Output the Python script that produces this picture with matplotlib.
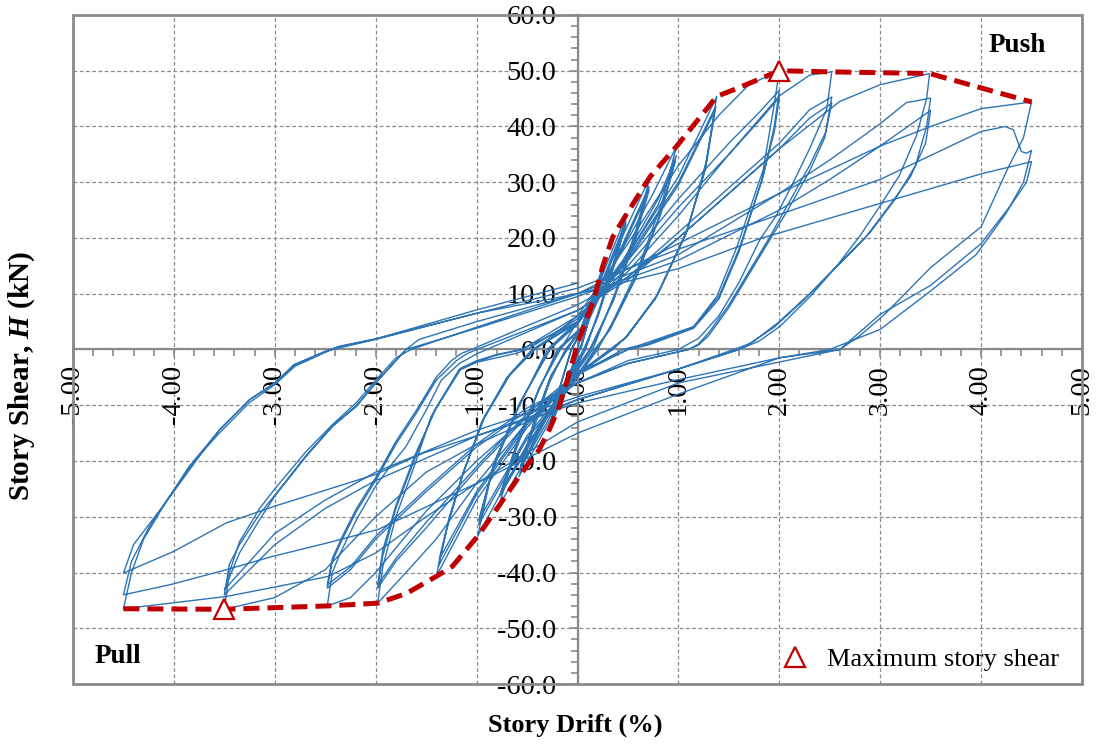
import numpy as np
import matplotlib
matplotlib.use("Agg")
import matplotlib.pyplot as plt
from matplotlib.patches import Rectangle
from matplotlib.ticker import MultipleLocator, FormatStrFormatter

# hysteresis record, one pair of lists per drift amplitude (3 cycles each)
drift_l1 = [0.00, 0.08, 0.25, 0.15, 0.05, 0.00, -0.10, -0.28, -0.18, -0.07,
            0.00, 0.09, 0.24, 0.14, 0.04, -0.02, -0.11, -0.27, -0.17, -0.06,
            0.00, 0.09, 0.24, 0.13, 0.04, -0.02, -0.11, -0.26, -0.16, -0.06]
shear_l1 = [0.0, 5.5, 14.9, 8.0, 1.5, -1.0, -6.5, -14.4, -7.0, -0.5,
            2.0, 6.5, 13.8, 7.0, 0.8, -1.5, -6.0, -13.5, -6.5, 0.0,
            2.2, 6.5, 13.4, 6.5, 0.5, -1.5, -5.8, -13.0, -6.0, 0.2]

drift_l2 = [0.05, 0.25, 0.49, 0.38, 0.22, 0.08, -0.05, -0.25, -0.58, -0.45, -0.28, -0.12,
            0.05, 0.25, 0.48, 0.37, 0.20, 0.07, -0.07, -0.28, -0.57, -0.44, -0.27, -0.11,
            0.05, 0.25, 0.48, 0.36, 0.20, 0.06, -0.07, -0.28, -0.56, -0.43, -0.26, -0.10]
shear_l2 = [3.5, 13.5, 24.4, 17.0, 7.5, 0.0, -4.5, -12.0, -22.8, -15.0, -6.0, 0.0,
            4.0, 12.5, 23.0, 15.5, 6.0, 0.0, -4.5, -11.5, -21.3, -13.5, -5.0, 0.0,
            3.8, 12.0, 22.5, 15.0, 5.8, 0.0, -4.3, -11.0, -20.8, -13.0, -4.6, 0.0]

drift_l3 = [0.10, 0.40, 0.72, 0.58, 0.38, 0.15, -0.05, -0.38, -0.78, -0.62, -0.40, -0.20,
            0.10, 0.40, 0.71, 0.56, 0.36, 0.13, -0.06, -0.40, -0.77, -0.60, -0.38, -0.18,
            0.10, 0.40, 0.71, 0.56, 0.35, 0.12, -0.06, -0.40, -0.76, -0.59, -0.37, -0.17]
shear_l3 = [5.5, 18.5, 31.0, 21.5, 10.5, 0.0, -5.0, -15.5, -28.1, -18.5, -8.0, 0.0,
            5.0, 17.0, 29.2, 19.5, 9.0, 0.0, -5.0, -14.8, -26.3, -16.8, -7.0, 0.0,
            4.8, 16.5, 28.6, 19.0, 8.6, 0.0, -4.6, -14.3, -25.6, -16.2, -6.5, 0.0]

drift_l4 = [0.00, 0.40, 0.75, 0.98, 0.84, 0.60, 0.35, 0.20, 0.00, -0.50, -0.99, -0.85, -0.60, -0.30,
            0.00, 0.45, 0.80, 0.98, 0.83, 0.58, 0.33, 0.18, 0.00, -0.50, -0.98, -0.83, -0.58, -0.28,
            0.00, 0.45, 0.80, 0.97, 0.82, 0.57, 0.32, 0.17, 0.00, -0.50, -0.98, -0.82, -0.57, -0.27]
shear_l4 = [5.0, 16.5, 28.0, 36.4, 26.5, 14.5, 5.0, 0.0, -5.0, -17.0, -33.5, -22.0, -11.0, 0.0,
            5.0, 16.0, 27.0, 34.8, 24.8, 13.0, 4.0, 0.0, -5.0, -16.0, -31.4, -20.5, -10.0, 0.0,
            4.5, 15.5, 26.0, 33.8, 24.0, 12.5, 3.5, 0.0, -4.5, -15.5, -30.6, -20.0, -9.5, 0.0]

drift_l5 = [0.00, 0.50, 1.00, 1.38, 1.28, 1.10, 0.80, 0.50, 0.35, 0.00, -0.50, -1.00, -1.40, -1.30, -1.15, -0.95, -0.70, -0.45,
            0.00, 0.50, 1.00, 1.37, 1.27, 1.08, 0.78, 0.48, 0.33, 0.00, -0.50, -1.00, -1.38, -1.28, -1.13, -0.93, -0.68, -0.43,
            0.00, 0.50, 1.00, 1.36, 1.26, 1.07, 0.77, 0.47, 0.32, 0.00, -0.50, -1.00, -1.37, -1.27, -1.12, -0.92, -0.67, -0.42]
shear_l5 = [5.0, 17.0, 31.0, 45.4, 34.0, 22.0, 10.0, 2.5, 0.0, -4.5, -14.0, -27.0, -40.7, -32.5, -23.0, -13.0, -5.0, 0.0,
            5.0, 16.5, 30.0, 43.6, 32.5, 21.0, 9.5, 2.2, 0.0, -4.5, -13.5, -26.0, -38.9, -31.0, -22.0, -12.5, -4.8, 0.0,
            4.8, 16.0, 29.5, 42.8, 32.0, 20.5, 9.0, 2.0, 0.0, -4.3, -13.0, -25.5, -37.6, -30.0, -21.5, -12.0, -4.5, 0.0]

drift_l6 = [0.00, 0.50, 1.00, 1.40, 1.70, 2.00, 1.95, 1.84, 1.58, 1.38, 1.15, 0.62, 0.45,
            0.00, -0.50, -1.00, -1.40, -1.70, -1.98, -1.93, -1.80, -1.60, -1.45, -1.17, -1.00, -0.61, -0.50,
            0.00, 0.50, 1.00, 1.50, 1.80, 2.00, 1.95, 1.84, 1.60, 1.40, 1.15, 0.70, 0.50,
            0.00, -0.50, -1.00, -1.50, -1.80, -1.98, -1.93, -1.80, -1.60, -1.42, -1.17, -1.00, -0.80, -0.55,
            0.00, 0.50, 1.00, 1.50, 1.80, 2.00, 1.95, 1.82, 1.60, 1.40, 1.15, 0.70, 0.50,
            0.00, -0.50, -1.00, -1.50, -1.80, -1.98, -1.93, -1.80, -1.60, -1.40, -1.15, -1.00, -0.80, -0.55]
shear_l6 = [6.0, 19.0, 33.0, 42.0, 47.5, 50.0, 44.0, 32.2, 18.4, 9.5, 4.1, 0.8, 0.0,
            -4.5, -13.0, -24.0, -34.0, -40.0, -45.5, -39.0, -30.0, -20.0, -12.0, -3.7, -2.3, -0.7, 0.0,
            5.5, 16.0, 27.0, 37.0, 42.5, 46.5, 40.0, 31.0, 18.0, 9.5, 4.0, 1.0, 0.0,
            -4.5, -12.0, -21.5, -32.0, -38.0, -42.8, -37.0, -28.5, -19.0, -11.0, -3.5, -2.2, -1.0, 0.0,
            5.0, 15.0, 25.5, 35.0, 41.0, 45.2, 39.0, 30.0, 17.5, 9.0, 3.8, 0.8, 0.0,
            -4.2, -11.5, -21.0, -31.0, -37.5, -42.2, -36.0, -28.0, -18.5, -10.5, -3.3, -2.0, -0.9, 0.0]

drift_l7 = [0.00, 0.50, 1.00, 1.50, 2.00, 2.30, 2.52, 2.47, 2.30, 2.14, 1.97, 1.81, 1.60, 1.40, 1.20, 1.00,
            0.50, 0.00, -0.50, -1.00, -1.50, -2.00, -2.25, -2.48,
            -2.43, -2.35, -2.19, -2.00, -1.86, -1.70, -1.50, -1.35, -1.17, -1.00, -0.90,
            0.00, 0.50, 1.00, 1.50, 2.00, 2.30, 2.52, 2.46, 2.30, 2.10, 1.90, 1.70, 1.50, 1.30, 1.20, 1.10,
            0.50, 0.00, -0.50, -1.00, -1.50, -2.00, -2.25, -2.48,
            -2.43, -2.33, -2.19, -2.00, -1.80, -1.60, -1.40, -1.20, -1.10, -1.00,
            0.00, 0.50, 1.00, 1.50, 2.00, 2.30, 2.52, 2.45, 2.30, 2.10, 1.90, 1.70, 1.50, 1.30, 1.20, 1.10,
            0.50, 0.00, -0.50, -1.00, -1.50, -2.00, -2.25, -2.48,
            -2.43, -2.33, -2.19, -2.00, -1.80, -1.60, -1.40, -1.25, -1.15, -1.05]
shear_l7 = [6.0, 14.0, 24.0, 35.0, 45.5, 49.2, 49.8, 43.1, 36.0, 30.0, 24.0, 19.8, 12.0, 6.0, 2.0, 0.0,
            -2.0, -6.0, -12.0, -20.0, -29.0, -40.0, -44.5, -46.0,
            -40.0, -36.5, -30.5, -24.5, -21.0, -17.4, -10.9, -5.5, -2.5, -0.8, 0.0,
            7.0, 13.0, 21.0, 29.0, 37.0, 43.0, 45.3, 39.0, 33.0, 26.5, 20.0, 14.0, 8.0, 3.0, 1.0, 0.0,
            -2.5, -6.0, -11.0, -17.5, -25.5, -34.0, -39.5, -42.8,
            -38.0, -34.0, -29.0, -23.5, -17.0, -11.5, -5.5, -2.0, -0.8, 0.0,
            7.0, 12.5, 20.0, 28.0, 36.0, 41.5, 44.2, 38.0, 32.0, 25.5, 19.5, 13.5, 7.5, 2.5, 0.8, 0.0,
            -2.5, -6.0, -10.5, -17.0, -25.0, -33.5, -39.0, -42.2,
            -37.5, -33.5, -28.5, -23.0, -16.5, -11.0, -5.0, -2.0, -0.7, 0.0]

drift_l8 = [-0.60, 0.00, 0.50, 1.00, 1.50, 2.00, 2.60, 3.00, 3.49,
            3.46, 3.36, 3.19, 3.00, 2.80, 2.57, 2.31, 2.01, 1.80, 1.60,
            1.00, 0.00, -1.00, -1.50, -2.00, -2.50, -3.00, -3.50,
            -3.45, -3.35, -3.15, -3.00, -2.70, -2.43, -2.19, -2.00, -1.80, -1.65,
            -1.00, 0.00, 1.00, 2.00, 2.50, 3.00, 3.26, 3.36, 3.50,
            3.46, 3.35, 3.15, 2.90, 2.60, 2.30, 2.00, 1.75, 1.60,
            1.00, 0.00, -1.00, -2.00, -2.50, -3.00, -3.50,
            -3.45, -3.35, -3.15, -2.95, -2.69, -2.43, -2.19, -2.00, -1.80, -1.70,
            -1.00, 0.00, 1.00, 2.00, 2.50, 3.00, 3.50,
            3.45, 3.30, 3.10, 2.85, 2.55, 2.25, 1.95, 1.70, 1.55,
            1.00, 0.00, -1.00, -2.00, -2.50, -3.00, -3.50,
            -3.35, -3.15, -3.00, -2.69, -2.43, -2.19, -2.00, -1.70, -1.57]
shear_l8 = [3.5, 8.0, 13.0, 20.0, 28.0, 36.0, 44.5, 47.5, 49.5,
            45.0, 38.4, 31.2, 25.8, 20.4, 15.0, 9.6, 4.2, 1.5, 0.0,
            -3.5, -9.0, -17.0, -22.0, -30.0, -39.5, -44.5, -46.6,
            -40.0, -34.5, -28.5, -25.0, -18.5, -13.5, -9.5, -5.5, -1.5, 0.0,
            4.0, 10.0, 17.0, 28.0, 34.0, 40.5, 44.3, 44.6, 45.1,
            40.0, 33.0, 27.0, 21.0, 15.5, 10.0, 5.0, 1.5, 0.0,
            -3.5, -9.0, -15.5, -23.5, -28.5, -35.0, -44.0,
            -38.5, -35.0, -29.5, -25.0, -19.0, -13.8, -10.0, -6.0, -2.0, 0.0,
            3.8, 9.5, 16.0, 25.0, 30.5, 36.5, 42.9,
            37.0, 31.0, 26.0, 20.0, 14.5, 9.0, 4.0, 1.0, 0.0,
            -3.5, -8.5, -14.5, -22.0, -27.0, -33.0, -43.1,
            -36.5, -30.5, -26.3, -19.2, -13.8, -10.2, -6.0, 0.0, 1.8]

drift_l9 = [-1.00, 0.00, 1.00, 2.00, 3.00, 3.50, 4.00, 4.50,
            4.42, 4.27, 4.00, 3.50, 3.05, 2.80, 2.60,
            1.00, 0.00, -1.00, -1.50, -2.00, -2.47, -2.97, -3.48, -3.90, -4.50,
            -4.42, -4.30, -4.10, -3.85, -3.55, -3.25, -3.00, -2.80, -2.50,
            -2.00, -1.00, 0.00, 1.00, 1.81, 3.00, 4.00, 4.24, 4.32, 4.40, 4.45, 4.50,
            4.42, 4.25, 3.95, 3.50, 3.00, 2.50,
            2.00, 1.00, 0.00, -1.00, -1.98, -2.48, -3.02, -3.48, -4.04, -4.50,
            -4.42, -4.25, -4.05, -3.80, -3.55, -3.25, -3.00, -2.80, -2.40,
            -2.00, -1.00, 0.00, 1.00, 1.81, 3.00, 4.00, 4.50,
            4.45, 4.30, 4.00, 3.50, 3.00, 2.60,
            2.00, 1.00, 0.00, -1.53, -2.00, -3.00, -3.48, -4.00, -4.50,
            -4.40, -4.21, -4.01, -3.75, -3.55, -3.25, -3.00, -2.81, -2.36, -2.00, -1.00, 0.00]
shear_l9 = [5.0, 10.0, 19.0, 28.0, 36.5, 40.0, 43.2, 44.4,
            38.0, 32.7, 22.0, 14.7, 6.4, 2.5, 0.0,
            -6.0, -13.0, -24.0, -30.0, -36.5, -40.7, -42.5, -44.3, -45.2, -46.5,
            -40.0, -34.0, -28.0, -21.0, -14.5, -9.0, -6.0, -2.7, -0.3,
            1.8, 6.5, 11.0, 18.0, 23.0, 30.5, 39.1, 40.0, 39.4, 35.5, 35.2, 35.7,
            30.0, 24.5, 17.0, 10.5, 3.6, 0.0,
            -1.5, -8.0, -15.0, -24.0, -32.3, -34.7, -37.1, -39.5, -42.2, -44.0,
            -38.0, -32.0, -26.5, -20.0, -15.0, -9.5, -6.3, -3.0, 0.3,
            1.9, 6.5, 10.0, 14.5, 19.9, 26.2, 31.5, 33.7,
            30.0, 26.0, 19.0, 11.5, 6.3, 0.0,
            -1.5, -5.4, -9.6, -18.6, -22.4, -28.1, -31.1, -36.2, -40.1,
            -35.0, -30.5, -25.7, -19.2, -14.4, -9.0, -6.0, -2.7, 0.6, 1.9, 7.1, 11.9]

# backbone (envelope) curve
env_drift = [-4.50, -3.50, -2.48, -1.98, -1.70, -1.40, -1.24, -0.99, -0.78, -0.58, -0.38, -0.28,
             -0.18, -0.08, 0.00, 0.16, 0.25, 0.35, 0.49, 0.72, 0.98, 1.22, 1.38, 1.55, 1.75,
             2.00, 2.52, 3.49, 4.50]
env_shear = [-46.5, -46.6, -46.0, -45.5, -43.8, -40.7, -38.9, -33.5, -28.1, -22.8, -18.0, -14.4,
             -10.2, -4.2, 1.0, 8.9, 14.9, 20.2, 24.4, 31.0, 36.4, 41.8, 45.4, 46.6, 48.1,
             50.0, 49.8, 49.5, 44.4]

# maximum story shear in each direction
peak_drift = [2.00, -3.50]
peak_shear = [50.0, -46.6]

drift = np.concatenate([drift_l1, drift_l2, drift_l3, drift_l4, drift_l5,
                        drift_l6, drift_l7, drift_l8, drift_l9])
shear = np.concatenate([shear_l1, shear_l2, shear_l3, shear_l4, shear_l5,
                        shear_l6, shear_l7, shear_l8, shear_l9])

plt.rcParams["font.family"] = "Liberation Serif"
plt.rcParams["mathtext.fontset"] = "custom"
plt.rcParams["mathtext.it"] = "Liberation Serif:italic:bold"
plt.rcParams["mathtext.rm"] = "Liberation Serif:bold"

GRAY = "#8a8a8a"
RED = "#c00000"
BLUE = "#2e75b6"

fig = plt.figure(figsize=(11.01, 7.46), dpi=100)
ax = fig.add_axes([73 / 1101, 1 - 684 / 746, 1009 / 1101, 669 / 746])

ax.plot(drift, shear, color=BLUE, lw=1.0, zorder=3)
ax.plot(env_drift, env_shear, color=RED, lw=3.6, ls=(0, (3.2, 1.6)), zorder=4)
ax.plot(peak_drift, peak_shear, ls="none", marker="^", ms=15, mfc="white", mec=RED, mew=1.6,
        zorder=5, label="Maximum story shear")

ax.set_xlim(-5, 5)
ax.set_ylim(-60, 60)

# axes cross at the origin, with a plain frame around the plot area
ax.spines["left"].set_position(("data", 0))
ax.spines["bottom"].set_position(("data", 0))
ax.spines["top"].set_visible(False)
ax.spines["right"].set_visible(False)
for s in ("left", "bottom"):
    ax.spines[s].set_color(GRAY)
    ax.spines[s].set_linewidth(1.6)
    ax.spines[s].set_zorder(2.5)
ax.add_patch(Rectangle((0, 0), 1, 1, transform=ax.transAxes, fill=False, ec=GRAY, lw=2.0,
                       clip_on=False, zorder=6))

ax.xaxis.set_major_locator(MultipleLocator(1))
ax.xaxis.set_minor_locator(MultipleLocator(0.2))
ax.yaxis.set_major_locator(MultipleLocator(10))
ax.yaxis.set_minor_locator(MultipleLocator(2))
ax.xaxis.set_major_formatter(FormatStrFormatter("%.2f"))
ax.yaxis.set_major_formatter(FormatStrFormatter("%.1f"))
ax.tick_params(which="both", direction="out", color=GRAY, width=1.2)
ax.tick_params(which="major", length=6, labelsize=20.5)
ax.tick_params(which="minor", length=5)
ax.tick_params(axis="x", labelrotation=90, pad=5)
ax.tick_params(axis="y", pad=9)

ax.grid(which="major", color=GRAY, lw=0.9, ls=(0, (3, 2)), zorder=0)
ax.set_axisbelow(True)

ax.text(0.9356, 0.955, "Push", transform=ax.transAxes, fontsize=19.5, fontweight="bold",
        ha="center", va="center")
ax.text(0.0446, 0.0404, "Pull", transform=ax.transAxes, fontsize=19.5, fontweight="bold",
        ha="center", va="center")

ax.legend(loc="lower right", frameon=False, fontsize=19, handletextpad=0.6,
          borderaxespad=0.1, handlelength=1.2, bbox_to_anchor=(0.99, 0.0))

fig.text(575 / 1101, 1 - 725 / 746, "Story Drift (%)", fontsize=19, fontweight="bold",
         ha="center", va="center")
fig.text(22 / 1101, 1 - 376 / 746, "Story Shear, $H$ (kN)", fontsize=21, fontweight="bold",
         ha="center", va="center", rotation=90)

fig.savefig("out.png", dpi=100)
